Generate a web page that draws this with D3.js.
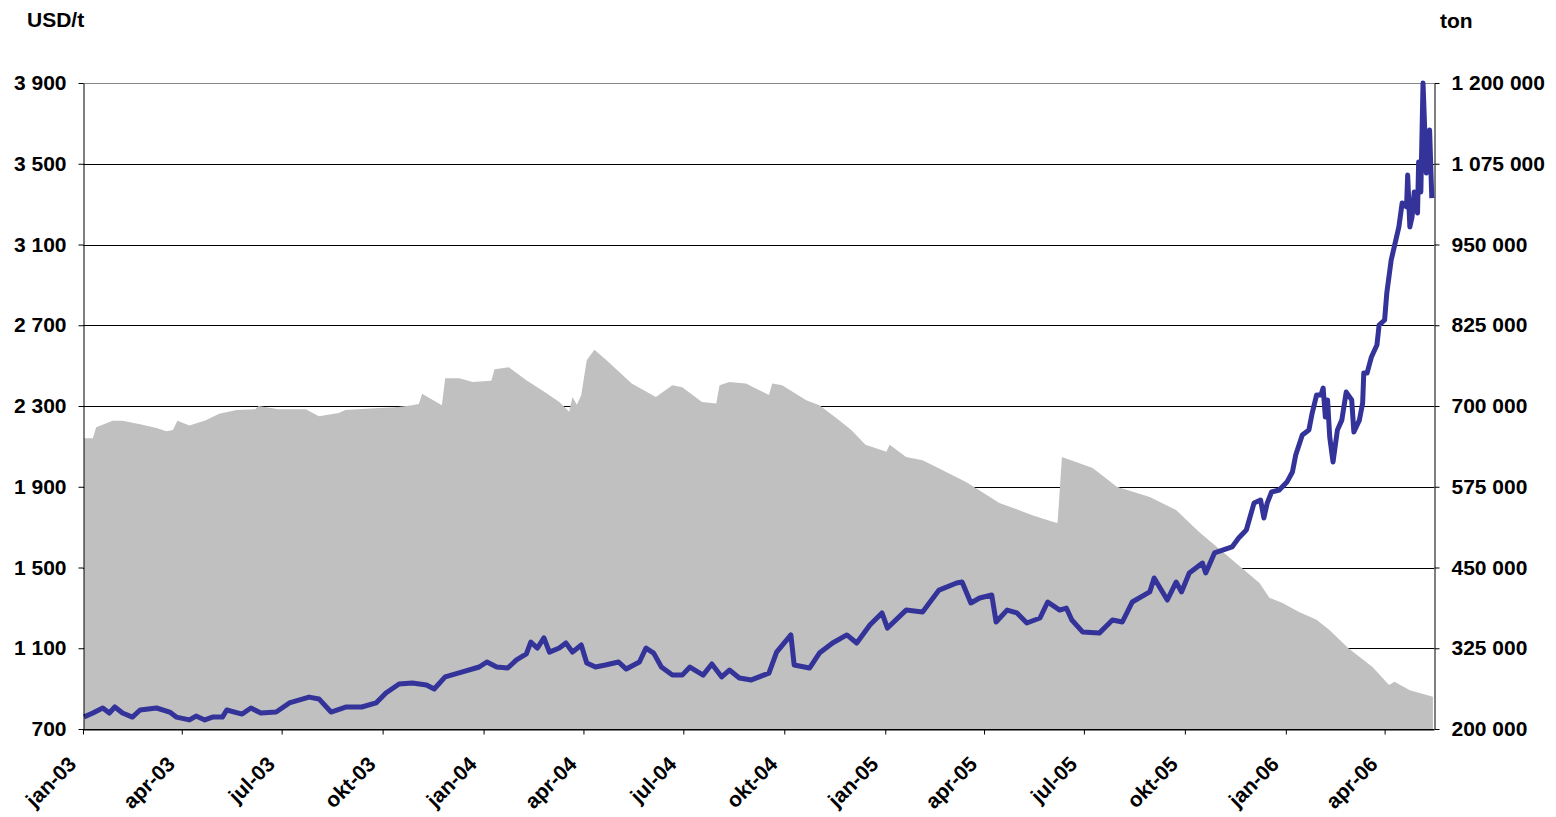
<!DOCTYPE html>
<html>
<head>
<meta charset="utf-8">
<script src="https://cdn.jsdelivr.net/npm/d3@7"></script>
<style>
  body { margin: 0; background: #fff; }
  svg text { font-family: "Liberation Sans", Arial, sans-serif; font-weight: bold; }
</style>
</head>
<body>
<svg id="chart" width="1556" height="817"></svg>
<script>
// LME stocks (ton, right axis)
const stockDates = [
  "2003-01-02","2003-01-10","2003-01-13","2003-01-28","2003-02-06","2003-02-21","2003-03-09","2003-03-18",
  "2003-03-24","2003-03-28","2003-04-08","2003-04-23","2003-05-05","2003-05-21","2003-06-07","2003-06-10",
  "2003-06-28","2003-07-23","2003-08-04","2003-08-22","2003-08-28","2003-09-28","2003-10-13","2003-10-28",
  "2003-11-03","2003-11-06","2003-11-24","2003-11-27","2003-12-10","2003-12-22","2004-01-08","2004-01-11",
  "2004-01-24","2004-02-09","2004-02-27","2004-03-10","2004-03-19","2004-03-22","2004-03-26","2004-03-30",
  "2004-04-04","2004-04-11","2004-04-22","2004-05-15","2004-06-06","2004-06-21","2004-06-30","2004-07-18",
  "2004-07-31","2004-08-03","2004-08-12","2004-08-27","2004-09-17","2004-09-20","2004-09-29","2004-10-21",
  "2004-11-02","2004-11-20","2004-12-01","2004-12-14","2005-01-02","2005-01-05","2005-01-20","2005-02-04",
  "2005-02-16","2005-03-16","2005-04-15","2005-05-15","2005-06-04","2005-06-07","2005-06-11","2005-07-09",
  "2005-07-31","2005-08-30","2005-09-23","2005-10-14","2005-11-13","2005-12-08","2005-12-17","2005-12-29",
  "2006-01-13","2006-01-29","2006-02-10","2006-02-27","2006-03-21","2006-04-05","2006-04-10","2006-04-24",
  "2006-05-15"
];
const stockTons = [
  650000,650000,667000,677000,677000,672000,666000,661000,
  663000,677000,670000,678000,688000,694000,695000,700000,
  695000,695000,684000,689000,694000,697000,698000,701000,
  703000,719000,701000,743000,743000,737000,739000,757000,
  760000,740000,720000,706000,691000,714000,702000,717000,
  771000,787000,771000,735000,714000,732000,729000,706000,
  704000,732000,737000,735000,717000,735000,732000,709000,
  701000,678000,663000,640000,629000,640000,621000,616000,
  606000,582000,550000,531000,520000,519000,621000,604000,
  575000,559000,539000,505000,462000,426000,403000,395000,
  381000,369000,353000,325000,296000,268000,273000,260000,
  250000
];

// price (USD/t, left axis)
const priceDates = [
  "2003-01-02","2003-01-10","2003-01-19","2003-01-25","2003-01-30","2003-02-06","2003-02-15","2003-02-22",
  "2003-03-09","2003-03-21","2003-03-27","2003-04-08","2003-04-14","2003-04-22","2003-04-29","2003-05-08",
  "2003-05-12","2003-05-26","2003-06-03","2003-06-12","2003-06-26","2003-07-08","2003-07-26","2003-08-04",
  "2003-08-15","2003-08-29","2003-09-12","2003-09-25","2003-10-04","2003-10-16","2003-10-28","2003-11-10",
  "2003-11-17","2003-11-27","2003-12-12","2003-12-28","2004-01-04","2004-01-13","2004-01-23","2004-01-31",
  "2004-02-09","2004-02-13","2004-02-19","2004-02-25","2004-03-01","2004-03-10","2004-03-16","2004-03-22",
  "2004-03-30","2004-04-04","2004-04-12","2004-04-21","2004-05-03","2004-05-10","2004-05-22","2004-05-28",
  "2004-06-04","2004-06-11","2004-06-21","2004-06-30","2004-07-07","2004-07-19","2004-07-27","2004-08-05",
  "2004-08-12","2004-08-21","2004-09-01","2004-09-17","2004-09-24","2004-10-07","2004-10-10","2004-10-24",
  "2004-11-02","2004-11-14","2004-11-27","2004-12-06","2004-12-18","2004-12-29","2005-01-03","2005-01-20",
  "2005-02-04","2005-02-19","2005-03-07","2005-03-12","2005-03-20","2005-03-28","2005-04-08","2005-04-12",
  "2005-04-22","2005-05-01","2005-05-10","2005-05-22","2005-05-29","2005-06-09","2005-06-15","2005-06-20",
  "2005-06-30","2005-07-15","2005-07-27","2005-08-05","2005-08-14","2005-08-30","2005-09-03","2005-09-15",
  "2005-09-23","2005-09-28","2005-10-05","2005-10-17","2005-10-20","2005-10-28","2005-11-13","2005-11-19",
  "2005-11-26","2005-12-03","2005-12-09","2005-12-12","2005-12-15","2005-12-19","2005-12-26","2006-01-02",
  "2006-01-07","2006-01-10","2006-01-16","2006-01-22","2006-01-25","2006-01-29","2006-02-02","2006-02-04",
  "2006-02-06","2006-02-08","2006-02-10","2006-02-13","2006-02-17","2006-02-21","2006-02-25","2006-03-02",
  "2006-03-04","2006-03-09","2006-03-12","2006-03-13","2006-03-16","2006-03-20","2006-03-25","2006-03-27",
  "2006-04-01","2006-04-03","2006-04-07","2006-04-14","2006-04-17","2006-04-21","2006-04-22","2006-04-24",
  "2006-04-26","2006-04-28","2006-05-01","2006-05-02","2006-05-04","2006-05-06","2006-05-09","2006-05-12",
  "2006-05-14"
];
const priceUsd = [
  760,779,804,779,809,779,759,794,
  804,784,759,745,764,745,759,759,
  794,774,804,779,784,829,858,849,
  784,809,809,829,878,923,928,918,
  898,958,982,1007,1032,1007,1002,1042,
  1072,1131,1101,1151,1081,1101,1126,1081,
  1116,1027,1007,1017,1032,997,1032,1101,
  1076,1007,967,967,1007,967,1022,958,
  992,953,943,977,1081,1166,1017,1002,
  1076,1126,1166,1126,1215,1275,1200,1289,
  1280,1388,1423,1428,1324,1349,1364,1230,
  1289,1275,1225,1250,1329,1289,1299,1240,
  1180,1175,1240,1230,1329,1379,1448,1339,
  1428,1379,1473,1522,1473,1572,1602,1646,
  1686,1819,1834,1745,1819,1874,1884,1923,
  1973,2057,2156,2181,2265,2354,2354,2389,
  2245,2330,2146,2023,2181,2230,2369,2330,
  2171,2230,2315,2463,2463,2543,2602,2701,
  2726,2860,3023,3187,3306,3286,3444,3187,
  3236,3360,3256,3509,3360,3900,3454,3667,
  3330
];

const usdTicks = [700, 1100, 1500, 1900, 2300, 2700, 3100, 3500, 3900];
const tonTicks = [200000, 325000, 450000, 575000, 700000, 825000, 950000, 1075000, 1200000];
const quarterDates = ["2003-01-01","2003-04-01","2003-07-01","2003-10-01","2004-01-01","2004-04-01","2004-07-01",
  "2004-10-01","2005-01-01","2005-04-01","2005-07-01","2005-10-01","2006-01-01","2006-04-01"];
const quarterLabels = ["jan-03","apr-03","jul-03","okt-03","jan-04","apr-04","jul-04",
  "okt-04","jan-05","apr-05","jul-05","okt-05","jan-06","apr-06"];

const parse = d3.timeParse("%Y-%m-%d");
const plotLeft = 83, plotRight = 1434, plotTop = 83, plotBottom = 729;

const svg = d3.select("#chart");

const x = d3.scaleTime()
  .domain([parse("2003-01-01"), parse("2006-05-16")])
  .range([plotLeft, plotRight]);
const yUsd = d3.scaleLinear().domain([700, 3900]).range([plotBottom, plotTop]);
const yTon = d3.scaleLinear().domain([200000, 1200000]).range([plotBottom, plotTop]);

const spaced = d3.formatLocale({ decimal: ",", thousands: " ", grouping: [3], currency: ["", ""] }).format(",d");

// gridlines
svg.append("g")
  .selectAll("line")
  .data(usdTicks)
  .join("line")
  .attr("x1", plotLeft)
  .attr("x2", plotRight)
  .attr("y1", d => Math.round(yUsd(d)) + 0.5)
  .attr("y2", d => Math.round(yUsd(d)) + 0.5)
  .attr("stroke", (d, i) => i === usdTicks.length - 1 ? "#888" : "#000")
  .attr("stroke-width", 1);

// stock area
const stock = stockDates.map((d, i) => ({ date: parse(d), value: stockTons[i] }));
const area = d3.area()
  .x(d => x(d.date))
  .y0(plotBottom)
  .y1(d => yTon(d.value));
svg.append("path")
  .datum(stock)
  .attr("fill", "#c0c0c0")
  .attr("d", area);

// price line
const price = priceDates.map((d, i) => ({ date: parse(d), value: priceUsd[i] }));
const line = d3.line()
  .x(d => x(d.date))
  .y(d => yUsd(d.value));
svg.append("path")
  .datum(price)
  .attr("fill", "none")
  .attr("stroke", "#333399")
  .attr("stroke-width", 5)
  .attr("stroke-linejoin", "round")
  .attr("d", line);

// axes
function styleAxis(g) {
  g.attr("font-family", null).attr("font-size", null);
  g.selectAll("text").attr("font-size", 21).attr("fill", "#000");
  g.selectAll("line").attr("stroke", "#000");
  g.select(".domain").attr("stroke", "#000");
}

svg.append("g")
  .attr("transform", `translate(${plotLeft + 0.5},0)`)
  .call(d3.axisLeft(yUsd).tickValues(usdTicks).tickSize(5).tickSizeOuter(0).tickPadding(12)
    .tickFormat(spaced))
  .call(styleAxis);

svg.append("g")
  .attr("transform", `translate(${plotRight + 0.5},0)`)
  .call(d3.axisRight(yTon).tickValues(tonTicks).tickSize(5).tickSizeOuter(0).tickPadding(12)
    .tickFormat(spaced))
  .call(styleAxis);

const xAxis = svg.append("g")
  .attr("transform", `translate(0,${plotBottom + 0.5})`)
  .call(d3.axisBottom(x).tickValues(quarterDates.map(parse)).tickSize(5).tickSizeOuter(0)
    .tickFormat((d, i) => quarterLabels[i]))
  .call(styleAxis);
xAxis.selectAll("text")
  .attr("text-anchor", "end")
  .attr("dy", null)
  .attr("y", 0)
  .attr("transform", "translate(-6,36) rotate(-45)");

// axis titles
svg.append("text").attr("x", 27).attr("y", 27).attr("font-size", 21).text("USD/t");
svg.append("text").attr("x", 1440).attr("y", 28).attr("font-size", 21).text("ton");
</script>
</body>
</html>
